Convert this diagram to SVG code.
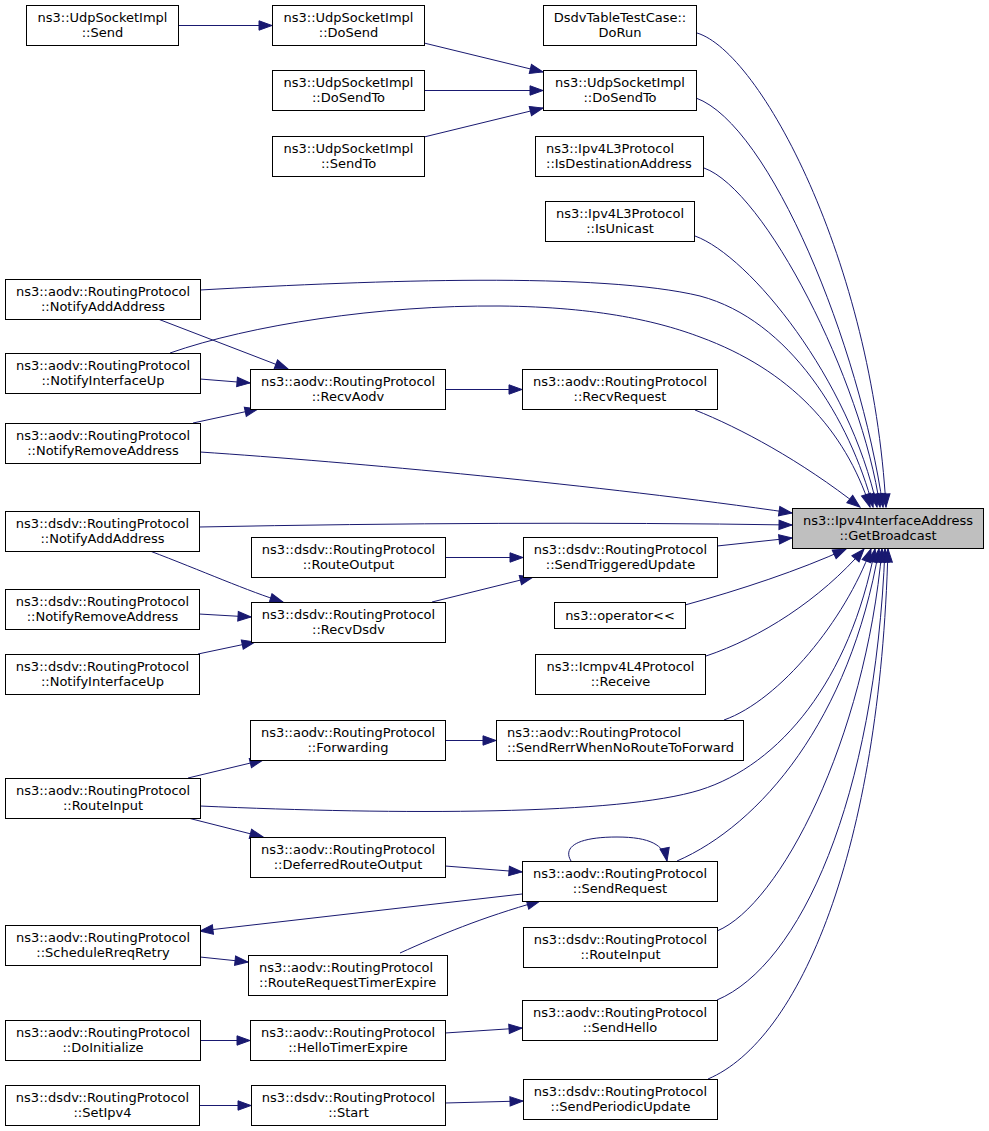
<svg xmlns="http://www.w3.org/2000/svg" width="989" height="1131" viewBox="0 0 989 1131">
<style>
rect.n{fill:#ffffff;stroke:#000000;stroke-width:1}
rect.hl{fill:#bfbfbf;stroke:#000000;stroke-width:1}
text{font-family:"DejaVu Sans","Liberation Sans",sans-serif;font-size:13px;fill:#000000}
text.c{text-anchor:middle}
text.l{text-anchor:start}
#edges path{fill:none;stroke:#191970;stroke-width:1;marker-end:url(#ah)}
</style>
<defs>
<marker id="ah" markerUnits="userSpaceOnUse" markerWidth="16" markerHeight="12" refX="13" refY="4.7" orient="auto" overflow="visible">
<path d="M0,0 L13,4.7 L0,9.4 z" fill="#191970" stroke="#191970" stroke-width="1"/>
</marker>
</defs>
<rect x="0" y="0" width="989" height="1131" fill="#ffffff"/>
<g id="edges">
<path d="M178,25.5 L272,25.5"/>
<path d="M424,43 L543,72"/>
<path d="M424,90.5 L543,90.5"/>
<path d="M424,137 L543,108"/>
<path d="M697,33 C760,52 872,260 886,507"/>
<path d="M696,98 C770,125 860,345 883,507"/>
<path d="M704,168 C765,190 862,380 880,507"/>
<path d="M695,236 C750,256 850,380 877,507"/>
<path d="M200,290 C380,280 600,272 700,296 C790,320 850,420 873,507"/>
<path d="M170,353 C250,325 380,305 500,306 C600,307 660,322 700,337 C790,370 845,430 870,507"/>
<path d="M158,319 L288,369"/>
<path d="M200,379 L250,383"/>
<path d="M193,423 L258,409"/>
<path d="M200,452 C350,462 600,485 792,513"/>
<path d="M445,389.5 L522,389.5"/>
<path d="M695,410 C740,428 800,460 860,507"/>
<path d="M199,527 C400,523 600,522 792,525"/>
<path d="M150,551 C200,570 250,592 283,602"/>
<path d="M445,557.5 L523,557.5"/>
<path d="M199,614 L251,617"/>
<path d="M432,602 L533,577"/>
<path d="M198,654 L255,642"/>
<path d="M717,546 L792,538"/>
<path d="M685,605 C740,590 800,570 846,549"/>
<path d="M706,656 C760,638 820,600 864,549"/>
<path d="M445,740.5 L496,740.5"/>
<path d="M724,720 C780,700 845,620 871,549"/>
<path d="M188,778 L263,760"/>
<path d="M200,806 C400,815 620,815 700,790 C780,765 850,680 875,549"/>
<path d="M188,818 L263,837"/>
<path d="M445,866 L522,872"/>
<path d="M571,861 C563,848 575,837 617,837 C650,837 664,845 667,861"/>
<path d="M677,861 C760,825 850,720 879,549"/>
<path d="M522,894 L200,931"/>
<path d="M200,957 L248,962"/>
<path d="M400,953 C440,935 480,918 540,901"/>
<path d="M717,931 C780,905 865,740 882,549"/>
<path d="M200,1040.5 L250,1040.5"/>
<path d="M445,1033 L522,1028"/>
<path d="M717,1000 C800,965 875,800 885,549"/>
<path d="M199,1105.5 L251,1105.5"/>
<path d="M445,1103 L523,1101"/>
<path d="M708,1079 C800,1040 880,850 888,549"/>
</g>
<g id="n_send"><rect class="n" x="26.5" y="5.5" width="152" height="40"/><text class="c" x="102.5" y="21.5">ns3::UdpSocketImpl</text><text class="c" x="102.5" y="36.5">::Send</text></g>
<g id="n_dosend"><rect class="n" x="272.5" y="5.5" width="152" height="40"/><text class="c" x="348.5" y="21.5">ns3::UdpSocketImpl</text><text class="c" x="348.5" y="36.5">::DoSend</text></g>
<g id="n_dosendto_l"><rect class="n" x="272.5" y="70.5" width="152" height="40"/><text class="c" x="348.5" y="86.5">ns3::UdpSocketImpl</text><text class="c" x="348.5" y="101.5">::DoSendTo</text></g>
<g id="n_sendto"><rect class="n" x="272.5" y="136.5" width="152" height="40"/><text class="c" x="348.5" y="152.5">ns3::UdpSocketImpl</text><text class="c" x="348.5" y="167.5">::SendTo</text></g>
<g id="n_dorun"><rect class="n" x="543.5" y="5.5" width="153" height="40"/><text class="c" x="620" y="21.5">DsdvTableTestCase::</text><text class="c" x="620" y="36.5">DoRun</text></g>
<g id="n_dosendto_m"><rect class="n" x="543.5" y="70.5" width="153" height="40"/><text class="c" x="620" y="86.5">ns3::UdpSocketImpl</text><text class="c" x="620" y="101.5">::DoSendTo</text></g>
<g id="n_isdest"><rect class="n" x="535.5" y="136.5" width="168" height="40"/><text class="l" x="546" y="152.5">ns3::Ipv4L3Protocol</text><text class="l" x="546" y="167.5">::IsDestinationAddress</text></g>
<g id="n_isunicast"><rect class="n" x="545.5" y="201.5" width="149" height="40"/><text class="c" x="620" y="217.5">ns3::Ipv4L3Protocol</text><text class="c" x="620" y="232.5">::IsUnicast</text></g>
<g id="n_aodv_naa"><rect class="n" x="5.5" y="279.5" width="195" height="40"/><text class="c" x="103" y="295.5">ns3::aodv::RoutingProtocol</text><text class="c" x="103" y="310.5">::NotifyAddAddress</text></g>
<g id="n_aodv_niu"><rect class="n" x="5.5" y="353.5" width="195" height="40"/><text class="c" x="103" y="369.5">ns3::aodv::RoutingProtocol</text><text class="c" x="103" y="384.5">::NotifyInterfaceUp</text></g>
<g id="n_recvaodv"><rect class="n" x="250.5" y="369.5" width="195" height="40"/><text class="c" x="348" y="385.5">ns3::aodv::RoutingProtocol</text><text class="c" x="348" y="400.5">::RecvAodv</text></g>
<g id="n_aodv_nra"><rect class="n" x="5.5" y="423.5" width="195" height="40"/><text class="c" x="103" y="439.5">ns3::aodv::RoutingProtocol</text><text class="c" x="103" y="454.5">::NotifyRemoveAddress</text></g>
<g id="n_recvreq"><rect class="n" x="522.5" y="369.5" width="195" height="40"/><text class="c" x="620" y="385.5">ns3::aodv::RoutingProtocol</text><text class="c" x="620" y="400.5">::RecvRequest</text></g>
<g id="n_gb"><rect class="hl" x="792.5" y="508.5" width="191" height="40"/><text class="c" x="888" y="524.5">ns3::Ipv4InterfaceAddress</text><text class="c" x="888" y="539.5">::GetBroadcast</text></g>
<g id="n_dsdv_naa"><rect class="n" x="5.5" y="511.5" width="194" height="40"/><text class="c" x="102.5" y="527.5">ns3::dsdv::RoutingProtocol</text><text class="c" x="102.5" y="542.5">::NotifyAddAddress</text></g>
<g id="n_routeoutput"><rect class="n" x="251.5" y="537.5" width="194" height="40"/><text class="c" x="348.5" y="553.5">ns3::dsdv::RoutingProtocol</text><text class="c" x="348.5" y="568.5">::RouteOutput</text></g>
<g id="n_sendtrig"><rect class="n" x="523.5" y="537.5" width="194" height="40"/><text class="c" x="620.5" y="553.5">ns3::dsdv::RoutingProtocol</text><text class="c" x="620.5" y="568.5">::SendTriggeredUpdate</text></g>
<g id="n_dsdv_nra"><rect class="n" x="5.5" y="589.5" width="194" height="40"/><text class="c" x="102.5" y="605.5">ns3::dsdv::RoutingProtocol</text><text class="c" x="102.5" y="620.5">::NotifyRemoveAddress</text></g>
<g id="n_recvdsdv"><rect class="n" x="251.5" y="602.5" width="194" height="40"/><text class="c" x="348.5" y="618.5">ns3::dsdv::RoutingProtocol</text><text class="c" x="348.5" y="633.5">::RecvDsdv</text></g>
<g id="n_oplt"><rect class="n" x="554.5" y="602.5" width="131" height="26"/><text class="c" x="620" y="620">ns3::operator&lt;&lt;</text></g>
<g id="n_dsdv_niu"><rect class="n" x="5.5" y="654.5" width="194" height="40"/><text class="c" x="102.5" y="670.5">ns3::dsdv::RoutingProtocol</text><text class="c" x="102.5" y="685.5">::NotifyInterfaceUp</text></g>
<g id="n_icmp"><rect class="n" x="535.5" y="654.5" width="170" height="40"/><text class="c" x="620.5" y="670.5">ns3::Icmpv4L4Protocol</text><text class="c" x="620.5" y="685.5">::Receive</text></g>
<g id="n_forwarding"><rect class="n" x="250.5" y="720.5" width="195" height="40"/><text class="c" x="348" y="736.5">ns3::aodv::RoutingProtocol</text><text class="c" x="348" y="751.5">::Forwarding</text></g>
<g id="n_sendrerr"><rect class="n" x="496.5" y="720.5" width="247" height="40"/><text class="l" x="507" y="736.5">ns3::aodv::RoutingProtocol</text><text class="l" x="507" y="751.5">::SendRerrWhenNoRouteToForward</text></g>
<g id="n_aodv_ri"><rect class="n" x="5.5" y="778.5" width="195" height="40"/><text class="c" x="103" y="794.5">ns3::aodv::RoutingProtocol</text><text class="c" x="103" y="809.5">::RouteInput</text></g>
<g id="n_deferred"><rect class="n" x="250.5" y="837.5" width="195" height="40"/><text class="c" x="348" y="853.5">ns3::aodv::RoutingProtocol</text><text class="c" x="348" y="868.5">::DeferredRouteOutput</text></g>
<g id="n_sendreq"><rect class="n" x="522.5" y="861.5" width="195" height="40"/><text class="c" x="620" y="877.5">ns3::aodv::RoutingProtocol</text><text class="c" x="620" y="892.5">::SendRequest</text></g>
<g id="n_sched"><rect class="n" x="5.5" y="925.5" width="195" height="40"/><text class="c" x="103" y="941.5">ns3::aodv::RoutingProtocol</text><text class="c" x="103" y="956.5">::ScheduleRreqRetry</text></g>
<g id="n_dsdv_ri"><rect class="n" x="523.5" y="927.5" width="194" height="40"/><text class="c" x="620.5" y="943.5">ns3::dsdv::RoutingProtocol</text><text class="c" x="620.5" y="958.5">::RouteInput</text></g>
<g id="n_rrte"><rect class="n" x="248.5" y="955.5" width="199" height="40"/><text class="l" x="259" y="971.5">ns3::aodv::RoutingProtocol</text><text class="l" x="259" y="986.5">::RouteRequestTimerExpire</text></g>
<g id="n_doinit"><rect class="n" x="5.5" y="1020.5" width="195" height="40"/><text class="c" x="103" y="1036.5">ns3::aodv::RoutingProtocol</text><text class="c" x="103" y="1051.5">::DoInitialize</text></g>
<g id="n_hello"><rect class="n" x="250.5" y="1020.5" width="195" height="40"/><text class="c" x="348" y="1036.5">ns3::aodv::RoutingProtocol</text><text class="c" x="348" y="1051.5">::HelloTimerExpire</text></g>
<g id="n_sendhello"><rect class="n" x="522.5" y="1000.5" width="195" height="40"/><text class="c" x="620" y="1016.5">ns3::aodv::RoutingProtocol</text><text class="c" x="620" y="1031.5">::SendHello</text></g>
<g id="n_setipv4"><rect class="n" x="5.5" y="1085.5" width="194" height="40"/><text class="c" x="102.5" y="1101.5">ns3::dsdv::RoutingProtocol</text><text class="c" x="102.5" y="1116.5">::SetIpv4</text></g>
<g id="n_start"><rect class="n" x="251.5" y="1085.5" width="194" height="40"/><text class="c" x="348.5" y="1101.5">ns3::dsdv::RoutingProtocol</text><text class="c" x="348.5" y="1116.5">::Start</text></g>
<g id="n_sendperiodic"><rect class="n" x="523.5" y="1079.5" width="194" height="40"/><text class="c" x="620.5" y="1095.5">ns3::dsdv::RoutingProtocol</text><text class="c" x="620.5" y="1110.5">::SendPeriodicUpdate</text></g>
</svg>
